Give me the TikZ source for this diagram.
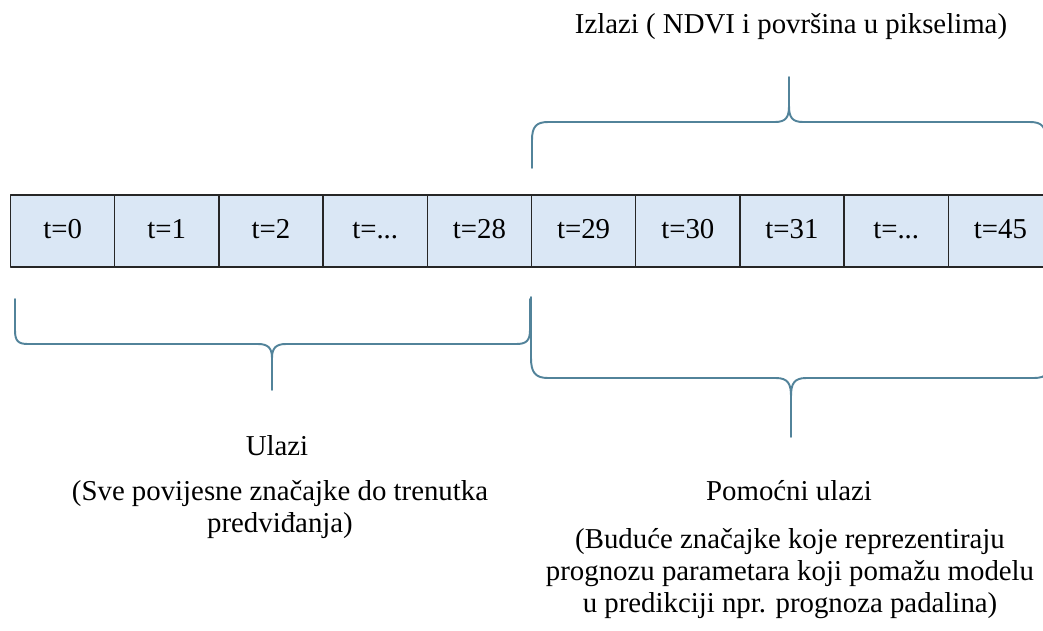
\documentclass[tikz,border=0pt]{standalone}
\usepackage{fontspec}
\setmainfont{Liberation Serif}
\usepackage{tikz}
\usetikzlibrary{positioning}
\definecolor{cellfill}{HTML}{DAE7F5}
\definecolor{cellline}{HTML}{262626}
\definecolor{brcol}{HTML}{52839A}

\begin{document}
\begin{tikzpicture}[
  font=\fontsize{16.4}{18.2}\selectfont, x=0.02cm, y=-0.02cm,
  line cap=round, line join=round,
  cell/.style={draw=cellline, fill=cellfill, line width=0.85pt,
               minimum width=2.084cm, minimum height=1.44cm, inner sep=0pt,
               text height=12pt, text depth=3pt},
  brc/.style={draw=brcol, line width=1.1pt},
  lbl/.style={anchor=base, inner sep=0pt},
  txt/.style={lbl, align=center},
]
\useasboundingbox (0,0) rectangle (1043,630);
\clip (0,0) rectangle (1043,630);

\node[cell] (t0)  at (  62.6,231) {t=0};
\node[cell] (t1)  at ( 166.8,231) {t=1};
\node[cell] (t2)  at ( 271.0,231) {t=2};
\node[cell] (tx1) at ( 375.2,231) {t=...};
\node[cell] (t28) at ( 479.4,231) {t=28};
\node[cell] (t29) at ( 583.6,231) {t=29};
\node[cell] (t30) at ( 687.8,231) {t=30};
\node[cell] (t31) at ( 792.0,231) {t=31};
\node[cell] (tx2) at ( 896.2,231) {t=...};
\node[cell] (t45) at (1000.4,231) {t=45};

\node[lbl] (izl) at (791,33) {Izlazi ( NDVI i površina u pikselima)};
\node[lbl] (ul)  at (277,455) {Ulazi};
\node[txt] (uld) at (280,532) {(Sve povijesne značajke do trenutka\\predviđanja)};
\node[lbl] (pom) at (789,500) {Pomoćni ulazi};
\node[txt] (pomd) at (790,612) {(Buduće značajke koje reprezentiraju\\prognozu parametara koji pomažu modelu\\u predikciji npr. prognoza padalina)};

\draw[brc] (532,168) -- (532,140) .. controls (532,127) and (536,122) .. (548,122)
  -- (775,122) .. controls (786,122) and (789,117) .. (789,106) -- (789,77)
  -- (789,106) .. controls (789,117) and (792,122) .. (803,122)
  -- (1030,122) .. controls (1042,122) and (1046,127) .. (1046,140) -- (1046,168);

\draw[brc] (15,299) -- (15,330) .. controls (15,341) and (18,344) .. (28,344)
  -- (258,344) .. controls (268,344) and (272,348) .. (272,358) -- (272,390)
  -- (272,358) .. controls (272,348) and (276,344) .. (286,344)
  -- (516,344) .. controls (526,344) and (530,341) .. (530,330) -- (530,299);

\draw[brc] (531,297) -- (531,358) .. controls (531,372) and (535,378) .. (548,378)
  -- (776,378) .. controls (788,378) and (791,384) .. (791,396) -- (791,437)
  -- (791,396) .. controls (791,384) and (794,378) .. (806,378)
  -- (1034,378) .. controls (1047,378) and (1051,372) .. (1051,358) -- (1051,297);
\end{tikzpicture}
\end{document}
